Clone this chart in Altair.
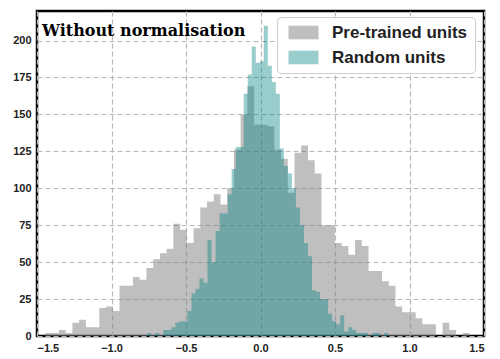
import altair as alt
import pandas as pd

# Pre-trained units histogram (63 bins)
pre_start = -1.443
pre_width = 0.04517
pre_counts = [2, 2, 4, 2, 9, 11, 6, 6, 19, 20,
              17, 34, 34, 40, 38, 46, 52, 56, 59, 76,
              72, 63, 73, 87, 91, 96, 89, 100, 126, 150,
              169, 143, 143, 142, 126, 120, 97, 124, 129, 119,
              110, 75, 75, 63, 61, 55, 65, 61, 44, 44,
              37, 34, 20, 16, 16, 12, 8, 8, 0, 9,
              4, 0, 2]

# Random units histogram (60 bins)
rnd_start = -0.760
rnd_width = 0.02697
rnd_counts = [2, 0, 2, 0, 4, 4, 6, 9, 10, 10,
              17, 29, 32, 39, 36, 65, 50, 71, 83, 83,
              96, 113, 128, 128, 164, 177, 196, 185, 186, 210,
              183, 172, 164, 127, 115, 110, 100, 87, 75, 63,
              54, 31, 30, 25, 25, 15, 10, 8, 14, 3,
              6, 4, 2, 2, 2, 0, 2, 2, 0, 2]

series_names = ["Pre-trained units", "Random units"]
x_ticks = [-1.5, -1.0, -0.5, 0.0, 0.5, 1.0, 1.5]
y_ticks = [0, 25, 50, 75, 100, 125, 150, 175, 200]


def step_rows(name, start, width, counts):
    out = []
    for i, c in enumerate(counts):
        out.append({"series": name, "x": start + i * width, "count": c})
    # closing edge of the last bin
    out.append({"series": name, "x": start + len(counts) * width, "count": counts[-1]})
    return out


df = pd.DataFrame(step_rows(series_names[0], pre_start, pre_width, pre_counts)
                  + step_rows(series_names[1], rnd_start, rnd_width, rnd_counts))

legend = alt.Legend(
    orient="none", legendX=240, legendY=6, title=None,
    fillColor="white", strokeColor="#cccccc", cornerRadius=4, padding=7,
    symbolType="M-1.875,-0.85H1.875V0.85H-1.875Z", symbolSize=256, symbolStrokeWidth=0,
    symbolOffset=11,
    labelFont="Liberation Sans", labelFontSize=17, labelFontWeight="bold",
    labelColor="#222222", rowPadding=7, labelOffset=20,
)

chart = alt.Chart(df).mark_area(interpolate="step-after", strokeWidth=0).encode(
    x=alt.X("x:Q", scale=alt.Scale(domain=[-1.5, 1.5], nice=False, zero=False),
            axis=alt.Axis(values=x_ticks, format=".1f", title=None)),
    y=alt.Y("count:Q", stack=None, scale=alt.Scale(domain=[0, 220], nice=False),
            axis=alt.Axis(values=y_ticks, title=None)),
    color=alt.Color("series:N", scale=alt.Scale(domain=series_names, range=["#808080", "#008080"]),
                    legend=legend),
    opacity=alt.Opacity("series:N", scale=alt.Scale(domain=series_names, range=[0.5, 0.4]),
                        legend=legend),
).properties(
    width=447, height=325,
    title=alt.TitleParams("Without normalisation", anchor="start", orient="top", offset=-28, dx=5,
                          frame="group",
                          font="DejaVu Serif", fontSize=16, fontWeight="bold", color="black"),
    autosize=alt.AutoSizeParams(type="none"),
    padding={"left": 29, "top": 3, "right": 8, "bottom": 20},
).configure_view(
    stroke="black", strokeWidth=2.5
).configure_axis(
    grid=True, gridDash=[5, 3], gridColor="#b8b8b8", gridWidth=1.2,
    domain=False, ticks=False, labelPadding=6,
    labelFont="Liberation Sans", labelFontSize=11, labelFontWeight="bold", labelColor="#222222",
)

chart.save("out.html", embed_options={"renderer": "svg", "actions": False})
